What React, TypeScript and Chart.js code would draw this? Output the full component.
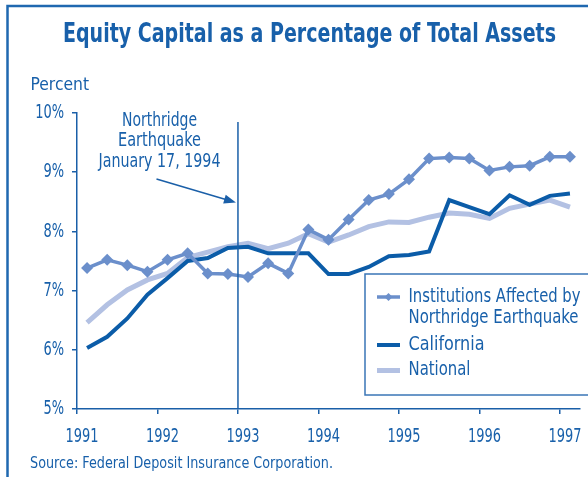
import React, { useEffect, useRef } from "react";
import { Chart, registerables } from "chart.js";

Chart.register(...registerables);

// ---- data ----
const quarters = [
  1991.125, 1991.375, 1991.625, 1991.875,
  1992.125, 1992.375, 1992.625, 1992.875,
  1993.125, 1993.375, 1993.625, 1993.875,
  1994.125, 1994.375, 1994.625, 1994.875,
  1995.125, 1995.375, 1995.625, 1995.875,
  1996.125, 1996.375, 1996.625, 1996.875,
  1997.125,
];
const institutions = [
  7.38, 7.52, 7.43, 7.32, 7.52, 7.63, 7.29, 7.28, 7.23, 7.46, 7.29, 8.03,
  7.86, 8.2, 8.53, 8.63, 8.88, 9.23, 9.25, 9.23, 9.03, 9.09, 9.11, 9.26, 9.26,
];
const california = [
  6.03, 6.22, 6.53, 6.93, 7.21, 7.5, 7.55, 7.72, 7.74, 7.63, 7.63, 7.63,
  7.28, 7.28, 7.4, 7.58, 7.6, 7.66, 8.53, 8.41, 8.29, 8.61, 8.45, 8.6, 8.64,
];
const national = [
  6.46, 6.76, 7.01, 7.18, 7.29, 7.56, 7.65, 7.74, 7.8, 7.71, 7.8, 7.96,
  7.82, 7.94, 8.08, 8.16, 8.15, 8.24, 8.31, 8.29, 8.22, 8.39, 8.46, 8.53, 8.41,
];
const yearTicks = [1991, 1992, 1993, 1994, 1995, 1996, 1997];
const seriesNames = ["Institutions Affected by Northridge Earthquake", "California", "National"];
const legendLines = [["Institutions Affected by", "Northridge Earthquake"], ["California"], ["National"]];
const titleText = "Equity Capital as a Percentage of Total Assets";
const yAxisTitle = "Percent";
const annotationLines = ["Northridge", "Earthquake", "January 17, 1994"];
const eventYear = 1993;
const sourceText = "Source: Federal Deposit Insurance Corporation.";

const TEXT = "#1860aa";
const C_INST = "#6b8fcb";
const C_CAL = "#0b5ca8";
const C_NAT = "#b3c1e3";
const FONT = "'Liberation Sans Narrow', 'DejaVu Sans Condensed', 'Arial Narrow', Roboto, sans-serif";
const TICK_FONT = `20px ${FONT}`;

function fitText(ctx: CanvasRenderingContext2D, text: string, x: number, y: number, font: string, width: number | null, align: "left" | "center" | "right", factor = 1) {
  ctx.save();
  ctx.font = font;
  ctx.textBaseline = "middle";
  ctx.textAlign = "left";
  const m = ctx.measureText(text).width;
  const w = width == null ? m * factor : width;
  const sx = w / m;
  let left = x;
  if (align === "center") left = x - w / 2;
  if (align === "right") left = x - w;
  ctx.translate(left, y);
  ctx.scale(sx, 1);
  ctx.fillText(text, 0, 0);
  ctx.restore();
}

const decor = {
  id: "decor",
  afterDraw(chart: any) {
    const ctx: CanvasRenderingContext2D = chart.ctx;
    const xs = chart.scales.x;
    const ys = chart.scales.y;
    ctx.save();
    // frame
    ctx.strokeStyle = "#1f68b0";
    ctx.lineWidth = 2.5;
    ctx.beginPath();
    ctx.moveTo(7.5, 480);
    ctx.lineTo(7.5, 6);
    ctx.lineTo(600, 6);
    ctx.stroke();

    ctx.fillStyle = TEXT;
    fitText(ctx, titleText, 309.5, 35, `bold 26px ${FONT}`, 493, "center");
    fitText(ctx, yAxisTitle, 30.5, 85, `18px ${FONT}`, 58.5, "left");

    // tick labels, from the scales' own ticks; condensed so that a year label is ~33px wide
    ctx.font = TICK_FONT;
    const f = 33 / ctx.measureText("1991").width;
    xs.ticks.forEach((t: any) => {
      fitText(ctx, String(t.value), xs.getPixelForValue(t.value) + 5, 437, TICK_FONT, null, "center", f);
    });
    ys.ticks.forEach((t: any) => {
      fitText(ctx, `${t.value}%`, 64, ys.getPixelForValue(t.value), TICK_FONT, null, "right", f);
    });

    // event line
    const ex = xs.getPixelForValue(eventYear);
    ctx.strokeStyle = "#1a5fa8";
    ctx.lineWidth = 1.5;
    ctx.beginPath();
    ctx.moveTo(ex, 122);
    ctx.lineTo(ex, ys.getPixelForValue(5));
    ctx.stroke();

    // annotation text
    ctx.fillStyle = TEXT;
    const widths = [75, 83, 122];
    annotationLines.forEach((t, i) => fitText(ctx, t, 159.5, 121 + i * 20.5, `19px ${FONT}`, widths[i], "center"));

    // arrow
    const ax0 = 156.5, ay0 = 179, ax1 = ex - 2, ay1 = 202.5;
    const ang = Math.atan2(ay1 - ay0, ax1 - ax0);
    ctx.strokeStyle = "#1a5fa8";
    ctx.lineWidth = 1.5;
    ctx.beginPath();
    ctx.moveTo(ax0, ay0);
    ctx.lineTo(ax1 - 8 * Math.cos(ang), ay1 - 8 * Math.sin(ang));
    ctx.stroke();
    ctx.fillStyle = "#1a5fa8";
    ctx.beginPath();
    ctx.moveTo(ax1, ay1);
    ctx.lineTo(ax1 - 12 * Math.cos(ang) + 4.5 * Math.sin(ang), ay1 - 12 * Math.sin(ang) - 4.5 * Math.cos(ang));
    ctx.lineTo(ax1 - 12 * Math.cos(ang) - 4.5 * Math.sin(ang), ay1 - 12 * Math.sin(ang) + 4.5 * Math.cos(ang));
    ctx.closePath();
    ctx.fill();

    // legend box
    ctx.fillStyle = "#ffffff";
    ctx.strokeStyle = "#3a76b6";
    ctx.lineWidth = 1.5;
    ctx.fillRect(365, 274, 240, 121);
    ctx.strokeRect(365, 274, 240, 121);
    const rows = [297, 345, 370.5];
    const lw = [3.5, 4, 5];
    const textWidths = [[172, 170], [76], [62]];
    chart.data.datasets.forEach((ds: any, i: number) => {
      const y = rows[i];
      ctx.strokeStyle = ds.borderColor;
      ctx.lineWidth = lw[i];
      ctx.beginPath();
      ctx.moveTo(377, y);
      ctx.lineTo(400, y);
      ctx.stroke();
      if (i === 0) {
        ctx.fillStyle = ds.borderColor;
        ctx.beginPath();
        ctx.moveTo(388.5, y - 4);
        ctx.lineTo(392.5, y);
        ctx.lineTo(388.5, y + 4);
        ctx.lineTo(384.5, y);
        ctx.closePath();
        ctx.fill();
      }
      ctx.fillStyle = TEXT;
      legendLines[i].forEach((t, j) => fitText(ctx, t, 408.5, y + j * 21.5, `19px ${FONT}`, textWidths[i][j], "left"));
    });

    ctx.fillStyle = TEXT;
    fitText(ctx, sourceText, 30, 464.5, `15px ${FONT}`, 303, "left");
    ctx.restore();
  },
};

export default function App() {
  const ref = useRef<HTMLCanvasElement | null>(null);
  useEffect(() => {
    document.body.style.margin = "0";
    const mk = (vals: number[]) => vals.map((v, i) => ({ x: quarters[i], y: v }));
    const chart = new Chart(ref.current!, {
      type: "line",
      data: {
        datasets: [
          {
            label: seriesNames[0],
            data: mk(institutions),
            borderColor: C_INST,
            backgroundColor: C_INST,
            borderWidth: 3.5,
            pointStyle: "rectRot",
            pointRadius: 6,
            pointBorderWidth: 0,
            tension: 0,
          },
          {
            label: seriesNames[1],
            data: mk(california),
            borderColor: C_CAL,
            backgroundColor: C_CAL,
            borderWidth: 4,
            pointRadius: 0,
            tension: 0,
          },
          {
            label: seriesNames[2],
            data: mk(national),
            borderColor: C_NAT,
            backgroundColor: C_NAT,
            borderWidth: 5,
            pointRadius: 0,
            tension: 0,
          },
        ],
      },
      options: {
        animation: false,
        responsive: false,
        devicePixelRatio: 1,
        layout: { padding: { top: 113, right: 8, left: 0, bottom: 0 } },
        plugins: { legend: { display: false }, title: { display: false }, tooltip: { enabled: false } },
        scales: {
          x: {
            type: "linear",
            min: 1991,
            max: 1997.25,
            afterFit: (s: any) => { s.height = 68; },
            afterBuildTicks: (s: any) => { s.ticks = yearTicks.map((v) => ({ value: v })); },
            ticks: { display: false, autoSkip: false, maxRotation: 0 },
            grid: { drawOnChartArea: false, drawTicks: true, tickLength: 5, color: "#1a5fa8", lineWidth: 1.5 },
            border: { display: true, color: "#1a5fa8", width: 1.5 },
          },
          y: {
            min: 5,
            max: 10,
            afterFit: (s: any) => { s.width = 77; },
            ticks: { display: false, stepSize: 1 },
            grid: { drawOnChartArea: false, drawTicks: true, tickLength: 5, color: "#1a5fa8", lineWidth: 1.5 },
            border: { display: true, color: "#1a5fa8", width: 1.5 },
          },
        },
      },
      plugins: [decor],
    });
    return () => chart.destroy();
  }, []);
  return (
    <div style={{ position: "absolute", left: 0, top: 0, width: 588, height: 477, background: "#fff" }}>
      <canvas ref={ref} width={588} height={477} style={{ display: "block", width: 588, height: 477 }} />
    </div>
  );
}
